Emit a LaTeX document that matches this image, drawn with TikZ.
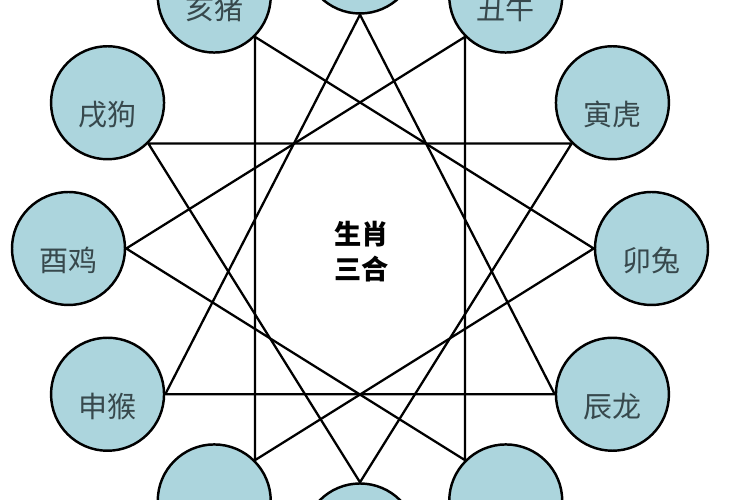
\documentclass[tikz,border=0pt]{standalone}
\usepackage{fontspec}
\newfontfamily\cjk{Noto Sans CJK SC}
\definecolor{sxfill}{RGB}{172,213,221}
\definecolor{sxtext}{RGB}{55,72,76}
\tikzset{sx/.style={circle, draw, line width=1.4pt, fill=sxfill, minimum size=2.26cm, inner sep=0pt}}
\tikzset{sxlbl/.style={font=\cjk\fontsize{16.5}{20}\selectfont, text=sxtext, inner sep=0pt}}
\tikzset{edge/.style={color=black, line width=1.3pt, line join=round}}

\begin{document}
\begin{tikzpicture}
  \clip (-7.2,-5.03) rectangle (7.8,4.97);
  \fill[white] (-7.2,-5.03) rectangle (7.8,4.97);

  \foreach \a/\n in {90/zi,60/chou,30/yin,0/mao,-30/chen,-60/si,-90/wu,-120/wei,-150/shen,180/you,150/xu,120/hai} {
    \node[sx] (\n) at (\a:5.83) {};
  }
  \foreach \n/\t in {chou/丑牛,yin/寅虎,mao/卯兔,chen/辰龙,shen/申猴,you/酉鸡,xu/戌狗,hai/亥猪} {
    \node[sxlbl] (\n-t) at ([yshift=-0.24cm]\n.center) {\t};
  }

  \draw[edge] (zi.south) -- (shen.east) -- (chen.west) -- cycle;
  \draw[edge] (wu.north) -- (xu.south east) -- (yin.south west) -- cycle;
  \draw[edge] (hai.south east) -- (mao.west) -- (wei.north east) -- cycle;
  \draw[edge] (chou.south west) -- (si.north west) -- (you.east) -- cycle;

  \node[font=\cjk\bfseries\fontsize{15.5}{19.9}\selectfont, align=center] (title) at (0.04,-0.06) {生肖\\三合};
\end{tikzpicture}
\end{document}
